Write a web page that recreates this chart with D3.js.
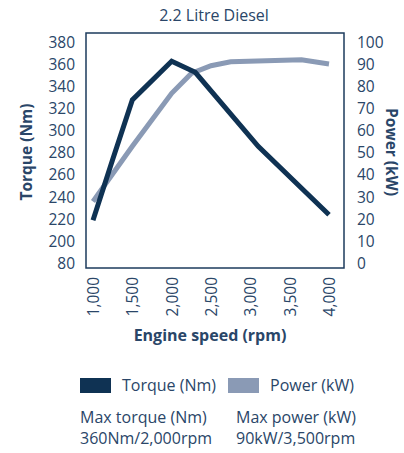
<!DOCTYPE html>
<html>
<head>
<meta charset="utf-8">
<script src="https://cdn.jsdelivr.net/npm/d3@7"></script>
<style>
  body { margin: 0; background: #fff; }
  svg text { font-family: "Open Sans", "Noto Sans", sans-serif; fill: #2a4668; }
</style>
</head>
<body>
<div id="chart"></div>
<script>
var width = 404, height = 453;

// data
var torqueRpm = [1000, 1250, 1500, 2000, 2300, 3100, 4000];
var torqueNm = [219, 274, 328, 363, 353, 286, 224];
var powerRpm = [1000, 1500, 2000, 2250, 2500, 2750, 3650, 4000];
var powerKw = [28, 53, 77, 86, 89.5, 91.3, 92.2, 90.3];
var torqueTicks = [80, 200, 220, 240, 260, 280, 300, 320, 340, 360, 380];
var powerTicks = [0, 10, 20, 30, 40, 50, 60, 70, 80, 90, 100];
var rpmTicks = [1000, 1500, 2000, 2500, 3000, 3500, 4000];

var torqueColor = "#0f3253", powerColor = "#8a9ab5";

var svg = d3.select("#chart")
    .append("svg")
    .attr("width", width)
    .attr("height", height);

// box
var box = {left: 86, right: 344, top: 33, bottom: 268};

var x = d3.scaleLinear().domain([1000, 4000]).range([93, 329]);
var yPow = d3.scaleLinear().domain([0, 100]).range([263.3, 42.5]);
// left axis has a break between 80 and 200
var yTor = d3.scaleLinear()
    .domain([80, 200, 380])
    .range([yPow(0), yPow(10), yPow(100)]);

svg.append("text")
    .attr("x", 214)
    .attr("y", 21)
    .attr("text-anchor", "middle")
    .style("font-size", "16px")
    .text("2.2 Litre Diesel");

svg.append("rect")
    .attr("x", box.left)
    .attr("y", box.top)
    .attr("width", box.right - box.left)
    .attr("height", box.bottom - box.top)
    .attr("fill", "none")
    .attr("stroke", "#1d3b5c")
    .attr("stroke-width", 1.5);

// left axis
var leftAxis = svg.append("g")
    .attr("transform", "translate(" + box.left + ",0)")
    .call(d3.axisLeft(yTor).tickValues(torqueTicks).tickSize(0).tickPadding(11));
leftAxis.select(".domain").remove();
leftAxis.selectAll("text").style("font-size", "15.5px").attr("font-family", null);

// right axis
var rightAxis = svg.append("g")
    .attr("transform", "translate(" + box.right + ",0)")
    .call(d3.axisRight(yPow).tickValues(powerTicks).tickSize(0).tickPadding(13));
rightAxis.select(".domain").remove();
rightAxis.selectAll("text").style("font-size", "15.5px").attr("font-family", null);

// bottom axis, rotated labels
var bottomAxis = svg.append("g")
    .attr("transform", "translate(0," + box.bottom + ")")
    .call(d3.axisBottom(x).tickValues(rpmTicks).tickSize(0).tickFormat(d3.format(",")));
bottomAxis.select(".domain").remove();
bottomAxis.selectAll("text")
    .attr("font-family", null)
    .style("font-size", "15.5px")
    .attr("text-anchor", "end")
    .attr("transform", "rotate(-90)")
    .attr("x", -9)
    .attr("y", 0)
    .attr("dy", "0.35em");

// axis titles
svg.append("text")
    .attr("transform", "translate(32,152) rotate(-90)")
    .attr("text-anchor", "middle")
    .style("font-size", "15.5px")
    .style("font-weight", "bold")
    .text("Torque (Nm)");

svg.append("text")
    .attr("transform", "translate(386,152) rotate(90)")
    .attr("text-anchor", "middle")
    .style("font-size", "15.5px")
    .style("font-weight", "bold")
    .text("Power (kW)");

svg.append("text")
    .attr("x", 210)
    .attr("y", 341)
    .attr("text-anchor", "middle")
    .style("font-size", "16px")
    .style("font-weight", "bold")
    .text("Engine speed (rpm)");

// lines
var powerLine = d3.line()
    .x(function (d, i) { return x(powerRpm[i]); })
    .y(function (d) { return yPow(d); });

var torqueLine = d3.line()
    .x(function (d, i) { return x(torqueRpm[i]); })
    .y(function (d) { return yTor(d); });

svg.append("path")
    .attr("d", powerLine(powerKw))
    .attr("fill", "none")
    .attr("stroke", powerColor)
    .attr("stroke-width", 5);

svg.append("path")
    .attr("d", torqueLine(torqueNm))
    .attr("fill", "none")
    .attr("stroke", torqueColor)
    .attr("stroke-width", 5);

// legend
var legend = [
    {name: "Torque (Nm)", color: torqueColor, x: 80},
    {name: "Power (kW)", color: powerColor, x: 228}
];
var lg = svg.append("g").selectAll("g")
    .data(legend)
    .enter()
    .append("g");
lg.append("rect")
    .attr("x", function (d) { return d.x; })
    .attr("y", 378)
    .attr("width", 31)
    .attr("height", 15)
    .attr("fill", function (d) { return d.color; });
lg.append("text")
    .attr("x", function (d) { return d.x + 42; })
    .attr("y", 391)
    .style("font-size", "16px")
    .text(function (d) { return d.name; });

// max notes
var notes = [
    {x: 80, lines: ["Max torque (Nm)", "360Nm/2,000rpm"]},
    {x: 236, lines: ["Max power (kW)", "90kW/3,500rpm"]}
];
notes.forEach(function (n) {
    n.lines.forEach(function (t, i) {
        svg.append("text")
            .attr("x", n.x)
            .attr("y", 423 + i * 21)
            .style("font-size", "16px")
            .text(t);
    });
});
</script>
</body>
</html>
